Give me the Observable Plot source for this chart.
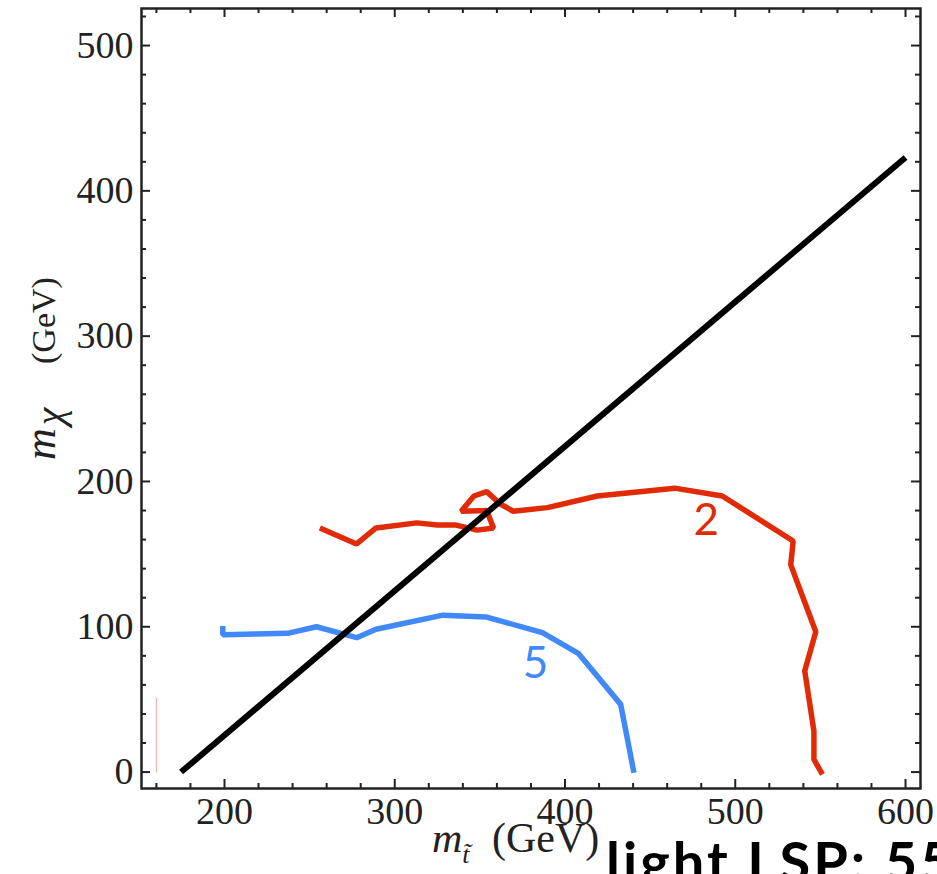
<!DOCTYPE html>
<html><head><meta charset="utf-8">
<script src="https://cdn.jsdelivr.net/npm/d3@7"></script>
<script src="https://cdn.jsdelivr.net/npm/@observablehq/plot@0.6"></script>
<style>html,body{margin:0;padding:0;overflow:hidden;background:#fff}</style>
</head><body><div id="chart"></div>
<script>
// contour "2" (red)
const redX = [256, 277.6, 289, 313, 325, 336, 348.5, 358, 354, 339, 346.5, 354, 362, 369.6, 389.6, 419, 464.4, 492.4, 534, 532.6, 547.3, 540.8, 546.2, 546.2, 551.2];
const redY = [168, 157, 168, 171.5, 170, 170, 166.5, 168, 180, 179.5, 190, 193, 184.5, 179.5, 182, 190, 195.4, 190, 159, 142.6, 96.6, 69.6, 28.2, 8.7, -1.6];
// contour "5" (blue)
const blueX = [199, 199, 237, 254, 277.6, 289, 328.3, 354, 386.7, 407.8, 432.7, 440.5];
const blueY = [100.5, 94.5, 95.5, 100, 92.5, 98.3, 108, 106.7, 96, 81.7, 46.6, -0.5];
// kinematic line m_chi = m_stop - m_top
const diagX = [174.5, 600];
const diagY = [0, 423];
// faint pink segment
const pinkX = [160, 160];
const pinkY = [0, 51];
// contour labels
const labelText = ["2", "5"];
const labelX = [483, 382.7];
const labelY = [173, 74.2];
const labelColor = ["#e12a06", "#4189f7"];
// ticks
const xMajor = [200, 300, 400, 500, 600];
const xMinor = [160, 180, 220, 240, 260, 280, 320, 340, 360, 380, 420, 440, 460, 480, 520, 540, 560, 580];
const yMajor = [0, 100, 200, 300, 400, 500];
const yMinor = [20, 40, 60, 80, 120, 140, 160, 180, 220, 240, 260, 280, 320, 340, 360, 380, 420, 440, 460, 480, 520];

const W = 937, H = 874;
const mL = 141, mR = 17, mT = 8, mB = 86;
const FW = W - mL - mR, FH = H - mT - mB;
const ink = "#222";
const serif = "'Liberation Serif', 'DejaVu Serif', serif";

const red = redX.map((x, i) => ({x, y: redY[i]}));
const blue = blueX.map((x, i) => ({x, y: blueY[i]}));
const diag = diagX.map((x, i) => ({x, y: diagY[i]}));
const pink = pinkX.map((x, i) => ({x, y: pinkY[i]}));
const labels = labelText.map((t, i) => ({t, x: labelX[i], y: labelY[i], c: labelColor[i]}));

const tickOpts = {stroke: ink, strokeWidth: 2};
const chart = Plot.plot({
  width: W, height: H,
  marginLeft: mL, marginRight: mR, marginTop: mT, marginBottom: mB,
  x: {domain: [151.25, 608.8]},
  y: {domain: [-11.3, 525.5]},
  marks: [
    Plot.line(pink, {x: "x", y: "y", stroke: "#f3a6a6", strokeWidth: 1}),
    Plot.line(red, {x: "x", y: "y", stroke: "#e12a06", strokeWidth: 5.5, strokeLinejoin: "miter", strokeLinecap: "butt"}),
    Plot.line(blue, {x: "x", y: "y", stroke: "#4189f7", strokeWidth: 5.5, strokeLinejoin: "miter", strokeLinecap: "butt"}),
    Plot.line(diag, {x: "x", y: "y", stroke: "#000", strokeWidth: 6, strokeLinecap: "butt"}),
    Plot.text(labels, {x: "x", y: "y", text: "t", fill: "c", fontSize: 44, fontFamily: "Lato, 'Open Sans', sans-serif"}),
    Plot.tickX(xMajor, {x: d => d, insetTop: FH - 9, ...tickOpts}),
    Plot.tickX(xMinor, {x: d => d, insetTop: FH - 5, ...tickOpts}),
    Plot.tickX(xMajor, {x: d => d, insetBottom: FH - 9, ...tickOpts}),
    Plot.tickX(xMinor, {x: d => d, insetBottom: FH - 5, ...tickOpts}),
    Plot.tickY(yMajor, {y: d => d, insetRight: FW - 9, ...tickOpts}),
    Plot.tickY(yMinor, {y: d => d, insetRight: FW - 5, ...tickOpts}),
    Plot.tickY(yMajor, {y: d => d, insetLeft: FW - 9, ...tickOpts}),
    Plot.tickY(yMinor, {y: d => d, insetLeft: FW - 5, ...tickOpts}),
    Plot.frame({stroke: ink, strokeWidth: 2.5}),
    Plot.axisX({ticks: xMajor, tickSize: 0, tickPadding: 9, fontSize: 38, fontFamily: serif, color: ink, label: null}),
    Plot.axisY({ticks: yMajor, tickSize: 0, tickPadding: 8, fontSize: 38, fontFamily: serif, color: ink, label: null})
  ]
});
document.getElementById("chart").appendChild(chart);

const svg = d3.select(chart);
// x-axis label: m_t~ (GeV)
const xl = svg.append("text").attr("x", 432).attr("y", 852)
  .attr("text-anchor", "start").attr("fill", ink)
  .style("font-family", serif).style("font-size", "42px");
xl.append("tspan").style("font-style", "italic").text("m");
xl.append("tspan").attr("dy", 11).style("font-style", "italic").style("font-size", "26px").text("t\u0303");
xl.append("tspan").attr("x", 492).attr("dy", -11).text("(GeV)");
// y-axis label: m_chi (GeV)
const yl = svg.append("text").attr("transform", "translate(55,460) rotate(-90)")
  .attr("x", 0).attr("y", 0).attr("text-anchor", "start").attr("fill", ink)
  .style("font-family", serif).style("font-size", "34px");
yl.append("tspan").style("font-style", "italic").style("font-size", "44px").text("m");
yl.append("tspan").attr("dx", 3).attr("dy", 8).style("font-style", "italic").style("font-size", "40px").text("\u03c7");
yl.append("tspan").attr("x", 96).attr("dy", -8).text("(GeV)");
// overlapping caption text, cut off by the page
svg.append("text").attr("x", 606).attr("y", 882)
  .attr("text-anchor", "start").attr("fill", "#000").attr("letter-spacing", 3)
  .style("font-family", "Lato, 'Open Sans', sans-serif").style("font-size", "56px").style("font-weight", 700)
  .text("light LSP: 55");
</script>
</body></html>
